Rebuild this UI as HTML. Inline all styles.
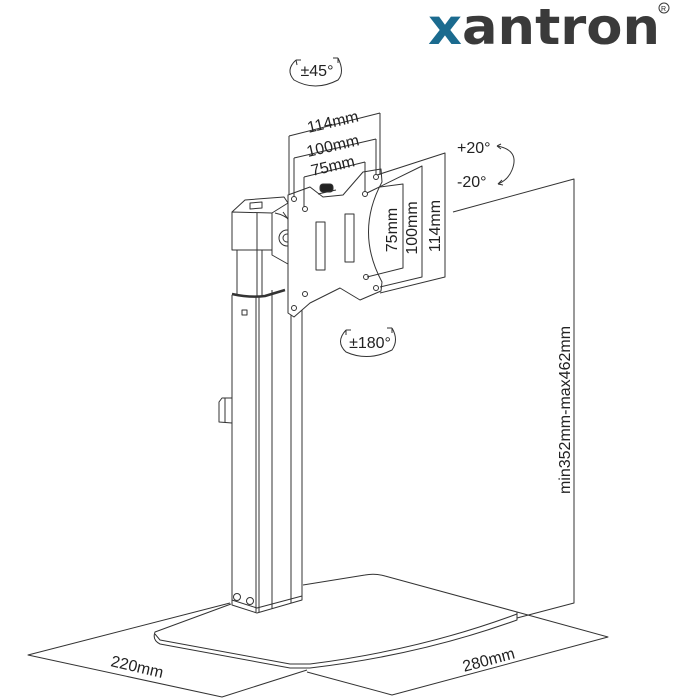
<!DOCTYPE html>
<html><head><meta charset="utf-8"><style>
html,body{margin:0;padding:0;background:#fff;}
svg{display:block;}
text{font-family:"Liberation Sans","DejaVu Sans",sans-serif;fill:#222;}
</style></head><body>
<svg width="700" height="700" viewBox="0 0 700 700" xmlns="http://www.w3.org/2000/svg">
<rect width="700" height="700" fill="#fff"/>
<!-- logo -->
<text x="428" y="44" font-size="50" textLength="232" lengthAdjust="spacingAndGlyphs" style="font-family:'DejaVu Sans','Liberation Sans',sans-serif;font-weight:600"><tspan fill="#1b6b8f">x</tspan><tspan fill="#3a3a3a">antron</tspan></text>
<circle cx="664" cy="8" r="5" fill="none" stroke="#3a3a3a" stroke-width="1"/>
<text x="661" y="11" font-size="7" fill="#3a3a3a">R</text>

<g fill="none" stroke="#333" stroke-width="1" stroke-linejoin="round">
<!-- dimension: height -->
<polyline points="453,212 574,179 574,603 517,618"/>
<!-- base dims -->
<polyline points="230,603 28,655 222,697 307,670"/>
<polyline points="307,672 392,695 608,637 517,612"/>

<!-- base plate -->
<path d="M303,585 L365,575 Q375,573 385,576 L517,612 L517,620 Q420,655 310,668 L290,668 L160,644 Q152,640 155,632 L231,604"/>
<path d="M155,634 L160,640 L290,664 L310,664 Q420,650 517,614"/>

<!-- pillar lower -->
<path d="M232,295 L232,605 L257,613 L302,600 L302,298"/>
<path d="M232,600 L257,608 L302,596"/>
<line x1="256" y1="296" x2="256" y2="612"/>
<line x1="259" y1="296" x2="259" y2="612"/>
<line x1="272" y1="290" x2="272" y2="609"/>
<line x1="291" y1="300" x2="291" y2="603"/>
<circle cx="237" cy="597" r="3.5"/><circle cx="250" cy="601" r="3.5"/>
<rect x="242" y="310" width="5" height="5"/>
<!-- clip -->
<path d="M232,398 L222,398 L219,402 L219,422 L232,423"/>
<line x1="225" y1="398" x2="225" y2="422"/>
<!-- band -->
<path d="M232,294 Q250,298 265,296 L285,290" stroke-width="2.5"/>
<!-- upper tube -->
<line x1="237" y1="250" x2="237" y2="294"/>
<line x1="257" y1="250" x2="257" y2="296"/>
<line x1="262" y1="250" x2="262" y2="296"/>
<!-- top box -->
<path d="M232,212 L232,250 L272,250 L272,213 Z"/>
<line x1="257" y1="213" x2="257" y2="250"/>
<path d="M232,212 L245,200 L284,197 L288,203 L272,213"/>
<path d="M250,203 L262,202 L262,208 L250,209Z"/>
<!-- bracket -->
<path d="M272,215 L272,255 L295,268 Q303,245 292,222 Q285,215 275,213"/>
<circle cx="287" cy="238" r="8"/><circle cx="287" cy="238" r="4"/>
<path d="M283,212 Q305,240 296,290"/>

<!-- VESA plate -->
<path d="M288,195 L310,187 L323,197 L343,195 L363,172 L381,169 L382,182 Q355,232 382,282 L381,291 L360,300 L340,288 L310,303 L294,317 L288,313 Z" fill="#fff"/>
<g stroke-width="1">
<circle cx="294" cy="199" r="2.5"/><circle cx="305" cy="209" r="2.5"/>
<circle cx="365" cy="194" r="2.5"/><circle cx="376" cy="177" r="2.5"/>
<circle cx="366" cy="277" r="2.5"/><circle cx="376" cy="288" r="2.5"/>
<circle cx="305" cy="294" r="2.5"/><circle cx="294" cy="308" r="2.5"/>
<rect x="316" y="222" width="9" height="48"/>
<rect x="345" y="214" width="9" height="48"/>
</g>
<rect x="320" y="184" width="13" height="8" rx="3" fill="#222"/>
<line x1="318" y1="194" x2="336" y2="190"/>

<!-- top VESA dims -->
<line x1="289" y1="136" x2="289" y2="194"/><line x1="380" y1="113" x2="380" y2="175"/><line x1="289" y1="136" x2="380" y2="113"/>
<line x1="294" y1="158" x2="294" y2="197"/><line x1="376" y1="139" x2="376" y2="175"/><line x1="294" y1="158" x2="376" y2="139"/>
<line x1="304" y1="177" x2="304" y2="207"/><line x1="365" y1="162" x2="365" y2="192"/><line x1="304" y1="177" x2="365" y2="162"/>
<!-- right VESA dims -->
<polyline points="377,175 445,153 445,277 380,293"/>
<polyline points="367,193 422,166 422,277 380,287"/>
<polyline points="380,187 403,184 403,268 367,277"/>

<!-- rotation arrows -->
<path d="M296,60 Q285,70 294,80 Q315,92 338,80 Q345,72 338,58"/>
<path d="M296,60 l1,5 M296,60 l5,0 M338,58 l-5,0 M338,58 l0,5"/>
<path d="M346,330 Q335,342 346,352 Q368,362 392,350 Q399,340 392,328"/>
<path d="M346,330 l5,0 M346,330 l0,5 M392,328 l-5,0 M392,328 l0,5"/>
<path d="M497,146 Q520,150 512,170 Q508,180 498,184"/>
<path d="M497,146 l4,-2 M497,146 l4,3 M498,184 l4,-4 M498,184 l5,1"/>
</g>

<!-- labels -->
<text x="317" y="76" font-size="16" text-anchor="middle">±45°</text>
<text x="370" y="348" font-size="16" text-anchor="middle">±180°</text>
<text x="457" y="153" font-size="16">+20°</text>
<text x="457" y="187" font-size="16">-20°</text>
<text font-size="16" text-anchor="middle" transform="translate(334,127) rotate(-13)">114mm</text>
<text font-size="16" text-anchor="middle" transform="translate(334,151) rotate(-13)">100mm</text>
<text font-size="16" text-anchor="middle" transform="translate(334,171) rotate(-13)">75mm</text>
<text font-size="16" text-anchor="middle" transform="translate(397,230) rotate(-90)">75mm</text>
<text font-size="16" text-anchor="middle" transform="translate(417,228) rotate(-90)">100mm</text>
<text font-size="16" text-anchor="middle" transform="translate(440,226) rotate(-90)">114mm</text>
<text font-size="16" text-anchor="middle" transform="translate(570,410) rotate(-90)">min352mm-max462mm</text>
<text font-size="16" text-anchor="middle" transform="translate(136,672) rotate(13)">220mm</text>
<text font-size="16" text-anchor="middle" transform="translate(490,665) rotate(-15)">280mm</text>
</svg>
</body></html>
